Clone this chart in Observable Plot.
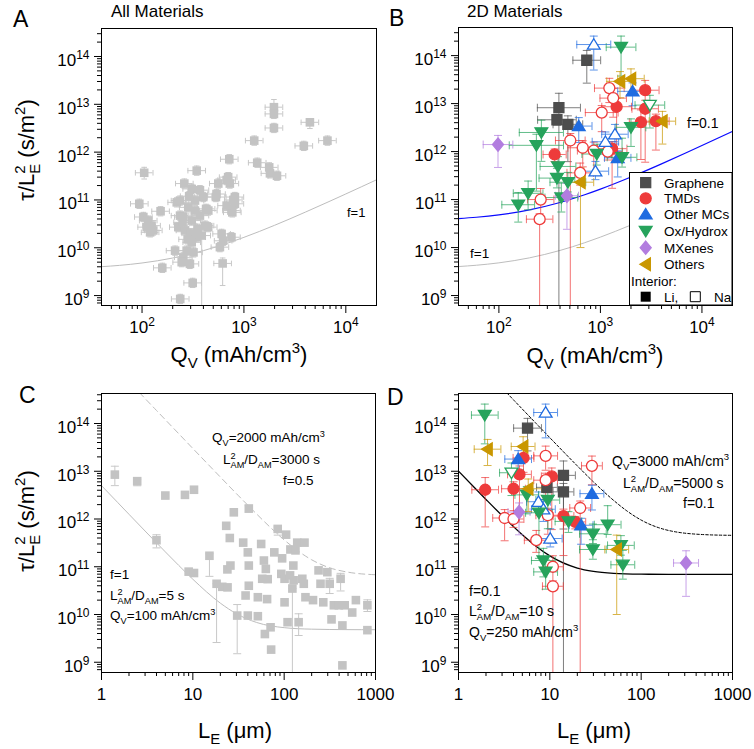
<!DOCTYPE html>
<html><head><meta charset="utf-8">
<script src="https://cdn.jsdelivr.net/npm/d3@7"></script>
<script src="https://cdn.jsdelivr.net/npm/@observablehq/plot@0.6"></script>
<style>
body{margin:0;background:#fff;}
#wrap{position:relative;width:754px;height:749px;overflow:hidden;background:#fff;}
</style></head><body><div id="wrap"></div>
<script>
// ---------------- DATA ----------------
// Panel A: all materials, tau/LE^2 vs Q_V
const aQ = [105,94,103,115,124,129,111,120,152,158, 237,314,344,260,211,219,307,370,399,331, 284,236,227,264,307,370,415,385,447,344, 307,274,254,295,245,604,625,581,754,618, 718,560,531,700,769,815,676,727,786,815, 754,676,1262,1350,1770,1800,2110,1970,1970,1970, 4440,3870,6600,538,330,290,250,350,300,280, 320,236,254,425,446];
const aTau = [3.7e11,8.3e10,4.4e10,3.7e10,2.9e10,2.3e10,2.7e10,2.1e10,5.8e10,3.8e9, 8.5e8,1.84e9,4.1e11,2.2e11,8.7e9,8.9e10,1.7e11,1.6e11,1.15e11,9.7e10, 7.0e10,4.7e10,2.7e10,2.3e10,3.7e10,4.7e10,2.9e10,1.8e10,6.0e10,1.66e10, 1.3e10,8.7e9,6.3e9,4.6e9,5.0e9,1.95e10,1.4e10,1.03e10,1.66e10,4.7e9, 7.1e11,2.2e11,1.15e11,3.0e11,5.5e10,1.15e11,2.6e11,2.2e11,1.0e11,8.3e10, 6.0e10,7.6e10,1.74e12,6.0e11,4.8e11,3.6e11,3.2e11,8.7e12,6.3e12,3.2e12, 4.2e12,1.35e12,1.74e12,1.33e11,6.0e10,1.2e11,3.4e10,2.5e10,2.0e10,1.5e10, 8.0e9,9.7e10,4.4e10,6.5e10,2.7e10];
const aQErr = 1.22;       // typical relative error on Q_V
const aTauErr = 1.25;     // typical relative error on tau/LE^2
const aErrIdx = [0,27,39,57,60];
const aErrDn = [1.35,1000,2.9,1.3,1.35];
const aErrUp = [1.3,1.3,1.3,1.45,1.2];

// Panel C: all materials, tau/LE^2 vs L_E
const cL = [1.40,2.46,5.0,8.2,10.3,4.0,9.0,10.3,15.2,18.2, 21,24,30.6,28.1,23.2,25.4,23.9,25.8,35.6,41, 40,41,41,37.8,40,51.5,51.5,56,60,63, 66,57.5,61.5,71,72,65,78,85,105,95, 93,101,101,109,117,133,139,126,116,127, 144,167,158,164,171,207,238,250,268,297, 315,330,350,397,415,434,434,460,556,610, 815,815,123];
const cTau = [8.5e12,6.2e12,3.1e12,3.2e12,4.1e12,3.6e11,7.9e10,7.4e10,1.7e11,4.4e10, 3.8e10,3.7e10,9.5e9,1.38e12,7.2e11,4.0e11,8.8e10,1.06e11,3.2e11,1.66e12, 2.0e11,1.06e11,4.0e10,2.5e10,9.5e9,2.3e10,9.2e9,3.0e11,1.35e11,9.0e10, 5.5e10,5.6e10,3.9e9,5.4e9,1.84e9,2.1e10,2.0e11,6.2e11,4.7e11,1.5e11, 7.1e10,5.6e10,1.8e10,6.9e9,2.3e11,2.2e11,3.2e11,1.06e11,6.6e10,5.2e10, 6.9e9,3.2e11,5.6e10,4.4e10,2.3e10,2.0e10,8.4e10,4.4e10,1.8e10,7.7e10, 4.4e10,7.9e9,1.56e10,1.56e10,5.6e10,5.9e9,8.6e8,1.56e10,1.1e10,2.0e10, 1.56e10,4.7e9,3.5e10];
const cErrIdx = [0,1,4,5,8,9,12,19,37,50,60,64,70,72];
const cErrDn = [1.7,1.25,1.2,1.45,2.7,17,6.3,1.2,1.35,1.9,1.6,1.8,1.35,1000];
const cErrUp = [1.5,1.1,1.1,1.3,1.1,1.0,1.7,1.15,1.1,1.5,1.3,1.3,1.3,1.0];

// Panels B & D: 2D materials
const categories = ["Graphene","TMDs","Other MCs","Ox/Hydrox","MXenes","Others"];
const bdCat = [0,0,0,0, 1,1,1,1,1,1,1, 1,1,1,1,1,1,1,1,1,1, 2,2,2,2,2,2,2, 3,3,3,3,3,3,3,3,3,3,3,3,3, 4,4, 5,5,5,5];
const bdNa  = [0,0,0,0, 0,0,0,0,0,0,0, 1,1,1,1,1,1,1,1,1,1, 0,0,0,1,1,1,1, 0,0,1,0,0,0,0,0,0,0,0,0,0, 0,0, 0,0,0,0];
const bdQ = [734,390,373,478, 2760,1444,2760,2505,3520,1303,354, 1224,1336,1030,505,670,860,1180,632,258,252, 2074,612,1480,860,1390,1120,893, 1597,2000,3070,262,234,382,373,478,920,1633,194,155,412, 98,468, 1560,2000,4080,636];
const bdL = [5.7,14.1,9.3,14.1, 5.15,4.65,10.5,1.96,4.0,14.1,19, 9.0,28.9,9.0,21.5,9.5,3.2,4.0,7.1,10.8,10.8, 4.5,28.9,22,9.0,7.5,8.5,10.1, 1.94,5.6,3.8,9.5,7.6,29.6,60,29.6,16,43,8.5,9.0,63, 4.6,310, 2.08,5.1,5.8,54];
const bdTau = [8.0e13,8.2e12,4.6e12,3.7e12, 1.9e13,8.6e12,7.8e12,4.1e12,4.3e12,1.15e12,8.7e11, 2.1e13,1.3e13,6.5e12,1.7e12,1.2e12,1.05e12,1.0e12,3.6e11,1.0e11,3.9e10, 1.8e13,3.4e12,7.4e11,1.7e14,2.3e12,1.6e12,3.9e11, 1.5e14,3.2e12,9.3e12,2.5e12,1.35e12,4.9e11,2.8e11,2.3e11,8.9e11,7.6e11,1.35e11,7.8e10,1.1e11, 1.4e12,1.2e11, 2.9e13,3.3e13,4.3e12,2.3e11];
const bdQErr = [1.37,1.63,1.55,1.4, 1.37,1.4,1.35,1.3,1.35,1.4,1.3, 1.4,1.35,1.45,1.4,1.4,1.45,1.4,1.35,1.35,1.35, 1.4,1.35,1.35,1.47,1.35,1.35,1.35, 1.4,1.4,1.4,1.65,1.85,1.5,1.5,1.5,1.4,1.4,1.4,1.45,1.45, 1.4,1.3, 1.35,1.35,1.35,1.35];
const bdLErr = [1.42,1.35,1.3,1.3, 1.3,1.35,1.3,1.4,1.35,1.3,1.3, 1.35,1.3,1.35,1.3,1.35,1.35,1.3,1.35,1.3,1.3, 1.4,1.35,1.35,1.35,1.35,1.35,1.35, 1.4,1.35,1.35,1.35,1.4,1.4,1.4,1.4,1.4,1.4,1.35,1.35,1.35, 1.32,1.37, 1.4,1.35,1.4,1.35];
const bdTauDn = [3,1e6,1.3,6, 2,10,13,6,4,6.7,1.4, 2,2.5,2.5,1e6,2.5,3,1.5,1.8,3,1e6, 2,2.2,2.5,3.4,1.6,1.8,1.5, 4,2.5,3,4,9,1.6,1.6,1.6,1.7,1.6,2.2,2.3,2, 3,5, 2.2,2,3,23];
const bdTauUp = [1.6,2.0,1.3,1.5, 1.6,1.5,1.5,1.8,1.4,1.4,1.3, 1.6,1.6,1.4,1.4,1.4,1.5,1.5,1.6,1.7,1.3, 1.5,1.5,1.4,1.5,1.6,1.6,1.6, 1.7,1.5,1.6,1.8,1.7,1.6,1.6,1.6,1.6,2.5,1.8,1.8,2, 1.55,1.8, 1.6,1.6,1.6,2];

// model curves
const curveQ   = [40,60,100,200,400,700,1000,2000,4000,7000,10000,20000];
const curveF1  = [4.02e9,4.28e9,4.8e9,6.1e9,8.7e9,1.26e10,1.65e10,2.95e10,5.55e10,9.45e10,1.335e11,2.635e11];
const curveF01 = [4.02e10,4.28e10,4.8e10,6.1e10,8.7e10,1.26e11,1.65e11,2.95e11,5.55e11,9.45e11,1.335e12,2.635e12];
const cSolidL = [1,1.5,2,3,5,7,10,20,30,50,100,200,500,1000];
const cSolid  = [5.0e12,2.23e12,1.255e12,5.6e11,2.05e11,1.07e11,5.48e10,1.73e10,1.04e10,6.8e9,5.3e9,4.93e9,4.82e9,4.8e9];
const cDashL  = [2.6,3,4,5,7,10,20,30,50,70,100,200,300,500,1000];
const cDash   = [4.44e14,3.334e14,1.876e14,1.2e14,6.13e13,3.0e13,7.57e12,3.4e12,1.27e12,6.77e11,3.65e11,1.4e11,9.8e10,7.7e10,6.8e10];
const dSolidL = [1,1.5,2,3,5,7,10,20,30,50,100,200,500,1000];
const dSolid  = [1.007e13,4.51e12,2.57e12,1.18e12,4.69e11,2.73e11,1.69e11,9.4e10,8.01e10,7.3e10,7.0e10,6.93e10,6.9e10,6.9e10];
const dDashL  = [3.4,4,5,7,10,20,30,50,70,100,200,500,1000];
const dDash   = [4.33e14,3.13e14,2.005e14,1.025e14,5.045e13,1.295e13,6.0e12,2.45e12,1.47e12,9.5e11,5.75e11,4.7e11,4.55e11];

// ticks
const yTicks = [1e9,1e10,1e11,1e12,1e13,1e14];
const qTicks = [100,1000,10000];
const lTicks = [1,10,100,1000];
const lTickLabels = ["1","10","100","1000"];

// ---------------- STYLE ----------------
const FONT = "'Liberation Sans', Arial, Helvetica, sans-serif";
const catColors = ["#4d4d4d","#ee3b3b","#1f6be0","#26a35c","#b27ddf","#c99700"];
const GRAY = "#c3c3c3";

function sym(fn){ return {draw(ctx,size){ const r=Math.sqrt(size/Math.PI); fn(ctx,r); }}; }
const SYM = {
  square: sym((c,r)=>{c.moveTo(-r,-r);c.lineTo(r,-r);c.lineTo(r,r);c.lineTo(-r,r);c.closePath();}),
  circle: sym((c,r)=>{c.moveTo(r,0);c.arc(0,0,r,0,2*Math.PI);c.closePath();}),
  up: sym((c,r)=>{c.moveTo(0,-r);c.lineTo(1.1*r,0.8*r);c.lineTo(-1.1*r,0.8*r);c.closePath();}),
  down: sym((c,r)=>{c.moveTo(0,r);c.lineTo(1.1*r,-0.8*r);c.lineTo(-1.1*r,-0.8*r);c.closePath();}),
  diamond: sym((c,r)=>{c.moveTo(0,-1.2*r);c.lineTo(r,0);c.lineTo(0,1.2*r);c.lineTo(-r,0);c.closePath();}),
  left: sym((c,r)=>{c.moveTo(-r,0);c.lineTo(0.8*r,-1.1*r);c.lineTo(0.8*r,1.1*r);c.closePath();}),
  hcap: sym((c,r)=>{c.moveTo(-r,0);c.lineTo(r,0);}),
  vcap: sym((c,r)=>{c.moveTo(0,-r);c.lineTo(0,r);})
};
const catSym = [SYM.square, SYM.circle, SYM.up, SYM.down, SYM.diamond, SYM.left];
const catR = [5, 5.5, 5.8, 5.8, 5.5, 5.8];

function minorTicks(lo, hi){
  const out=[];
  for(let e=Math.floor(Math.log10(lo)); e<=Math.ceil(Math.log10(hi)); e++)
    for(let m=2;m<=9;m++){ const v=m*Math.pow(10,e); if(v>lo*1.0001 && v<hi*0.9999) out.push(v); }
  return out;
}

function axisMarks(xMajor, xFmt, xDomain, yDomain){
  return [
    Plot.axisY({ticks: minorTicks(yDomain[0], yDomain[1]), tickSize: 4, tickFormat: () => "", label: null}),
    Plot.axisY({ticks: yTicks, tickSize: 7, tickPadding: 5, tickFormat: d => "10^" + Math.round(Math.log10(d)), label: null}),
    Plot.axisX({ticks: minorTicks(xDomain[0], xDomain[1]), tickSize: 4, tickFormat: () => "", label: null}),
    Plot.axisX({ticks: xMajor, tickSize: 8, tickPadding: 7, tickFormat: xFmt, label: null})
  ];
}

function errMarks(data, o){
  const m = [];
  const base = {stroke: o.stroke, strokeOpacity: o.op ?? 1, strokeWidth: 1, clip: true};
  if (o.x1) {
    m.push(Plot.ruleY(data, {...base, y: o.y, x1: o.x1, x2: o.x2}));
    m.push(Plot.dot(data, {...base, x: o.x1, y: o.y, symbol: SYM.vcap, r: o.cap, fill: "none"}));
    m.push(Plot.dot(data, {...base, x: o.x2, y: o.y, symbol: SYM.vcap, r: o.cap, fill: "none"}));
  }
  if (o.y1) {
    m.push(Plot.ruleX(data, {...base, x: o.x, y1: o.y1, y2: o.y2}));
    m.push(Plot.dot(data, {...base, x: o.x, y: o.y1, symbol: SYM.hcap, r: o.cap, fill: "none"}));
    m.push(Plot.dot(data, {...base, x: o.x, y: o.y2, symbol: SYM.hcap, r: o.cap, fill: "none"}));
  }
  return m;
}

function makePlot(cfg){
  return Plot.plot({
    width: 377, height: 375,
    marginLeft: cfg.ml, marginRight: cfg.mr, marginTop: cfg.mt, marginBottom: cfg.mb,
    x: {type: "log", domain: cfg.xDomain},
    y: {type: "log", domain: cfg.yDomain},
    style: {background: "transparent", overflow: "visible", fontFamily: FONT, fontSize: "17px", color: "#000"},
    marks: [
      ...cfg.marks,
      ...axisMarks(cfg.xMajor, cfg.xFmt, cfg.xDomain, cfg.yDomain),
      Plot.frame({stroke: "#000", strokeWidth: 1})
    ]
  });
}

const wrap = document.getElementById("wrap");
function place(svg, left, top){
  svg.style.position = "absolute"; svg.style.left = left + "px"; svg.style.top = top + "px";
  wrap.appendChild(svg);
  supLabels(svg);
  return d3.select(svg);
}
function supLabels(svg){
  d3.select(svg).selectAll("text").each(function(){
    const t = this.textContent;
    const m = /^10\^(\d+)$/.exec(t), mx = /^10~(\d+)$/.exec(t);
    if (!m && !mx) return;
    const sel = d3.select(this); sel.text(null);
    sel.append("tspan").attr("dy", m ? 4 : 0).text("10");
    sel.append("tspan").attr("dy", -7).attr("font-size", 12).text((m||mx)[1]);
  });
}
function rich(sel, x, y, parts, size, opts={}){
  const t = sel.append("text").attr("x", x).attr("y", y).attr("font-size", size)
    .attr("font-family", FONT).attr("fill", opts.fill || "#000").attr("text-anchor", opts.anchor || "start");
  if (opts.rotate) t.attr("transform", `rotate(-90 ${x} ${y})`);
  let shift = 0, lastSup = null;
  for (const [txt, kind] of parts){
    const target = kind === "sup" ? -0.4*size : (kind === "sub" || kind === "subU") ? 0.28*size : 0;
    const ts = t.append("tspan").text(txt).attr("dy", target - shift);
    if (kind !== "n") ts.attr("font-size", 0.68*size);
    if (kind === "subU" && lastSup) ts.attr("dx", -lastSup.node().getComputedTextLength());
    if (kind === "sup") lastSup = ts;
    shift = target;
  }
  return t;
}
function label(sel, x, y, txt, size){
  return sel.append("text").attr("x", x).attr("y", y).attr("font-size", size).attr("font-family", FONT)
    .attr("text-anchor", "start").attr("fill", "#000").text(txt);
}

// ---------------- DATA TABLES ----------------
const aData = aQ.map((q,i) => {
  const k = aErrIdx.indexOf(i);
  return {q, t: aTau[i], dn: k >= 0 ? aErrDn[k] : aTauErr, up: k >= 0 ? aErrUp[k] : aTauErr};
});
const cData = cL.map((l,i) => ({l, t: cTau[i]}));
const cErr = cErrIdx.map((i,k) => ({l: cL[i], t: cTau[i], dn: cErrDn[k], up: cErrUp[k]}));
const bd = bdQ.map((q,i) => ({cat: bdCat[i], na: bdNa[i], q, l: bdL[i], t: bdTau[i], qe: bdQErr[i], le: bdLErr[i], dn: bdTauDn[i], up: bdTauUp[i]}));
const line = (xs, ys) => xs.map((x,i) => ({x, y: ys[i]}));

const qDomain = [40, 20000], lDomain = [1, 1000];
const yDomAB = [6.2e8, 3.85e14], yDomCD = [6.1e8, 4.25e14];
const qFmt = d => "10~" + Math.round(Math.log10(d));
const lFmt = d => lTickLabels[lTicks.indexOf(d)];

// ---------------- PANEL A ----------------
const svgA = makePlot({
  ml: 101, mr: 1, mt: 28, mb: 70, xDomain: qDomain, yDomain: yDomAB, xMajor: qTicks, xFmt: qFmt,
  marks: [
    Plot.line(line(curveQ, curveF1), {x: "x", y: "y", stroke: "#bdbdbd", strokeWidth: 1, curve: "monotone-x", clip: true}),
    ...errMarks(aData, {x: "q", y: "t", x1: d => d.q/aQErr, x2: d => d.q*aQErr, y1: d => d.t/d.dn, y2: d => d.t*d.up, stroke: "#c8c8c8", cap: 2.8}),
    Plot.dot(aData, {x: "q", y: "t", symbol: SYM.square, r: 4.3, fill: GRAY, stroke: "none"})
  ]
});
const A = place(svgA, 0, 0);
label(A, 13, 27, "A", 23);
label(A, 111, 17, "All Materials", 17);
label(A, 347, 217, "f=1", 13);
rich(A, 34, 150, [["τ/L","n"],["2","sup"],["E","subU"],[" (s/m","n"],["2","sup"],[")","n"]], 22, {anchor: "middle", rotate: true});
rich(A, 239, 362, [["Q","n"],["V","sub"],[" (mAh/cm","n"],["3","sup"],[")","n"]], 22, {anchor: "middle"});

// ---------------- PANEL B / D marks ----------------
function catMarks(xKey, xeKey){
  const marks = [];
  for (let c = 0; c < categories.length; c++){
    const sub = bd.filter(d => d.cat === c);
    marks.push(...errMarks(sub, {x: xKey, y: "t", x1: d => d[xKey]/d[xeKey], x2: d => d[xKey]*d[xeKey], y1: d => d.t/d.dn, y2: d => d.t*d.up, stroke: catColors[c], op: 0.72, cap: 4}));
  }
  for (let c = 0; c < categories.length; c++){
    for (const na of [0,1]){
      const sub = bd.filter(d => d.cat === c && d.na === na);
      if (!sub.length) continue;
      marks.push(Plot.dot(sub, {x: xKey, y: "t", symbol: catSym[c], r: catR[c], fill: na ? "#fff" : catColors[c], stroke: catColors[c], strokeWidth: 1.3}));
    }
  }
  return marks;
}

const svgB = makePlot({
  ml: 81, mr: 22, mt: 27, mb: 70, xDomain: qDomain, yDomain: yDomAB, xMajor: qTicks, xFmt: qFmt,
  marks: [
    Plot.line(line(curveQ, curveF1), {x: "x", y: "y", stroke: "#bdbdbd", strokeWidth: 1, curve: "monotone-x", clip: true}),
    Plot.line(line(curveQ, curveF01), {x: "x", y: "y", stroke: "#0a0aff", strokeWidth: 1.2, curve: "monotone-x", clip: true}),
    ...catMarks("q", "qe")
  ]
});
const B = place(svgB, 377, 0);
label(B, 12, 26, "B", 23);
label(B, 90, 17, "2D Materials", 17);
label(B, 310, 128, "f=0.1", 14);
label(B, 93, 258, "f=1", 13.5);
// legend
{
  const g = B.append("g").attr("font-family", FONT).attr("font-size", 13.5).attr("text-anchor", "start");
  g.append("rect").attr("x", 252.5).attr("y", 172.5).attr("width", 102.5).attr("height", 132.5).attr("fill", "#fff").attr("stroke", "#000").attr("stroke-width", 1);
  const ys = [182.7, 198.3, 214.3, 231, 247.7, 264.3];
  categories.forEach((name, c) => {
    g.append("path").attr("transform", `translate(268.7,${ys[c]})`).attr("d", d3.symbol().type(catSym[c]).size(Math.PI*catR[c]*catR[c])())
      .attr("fill", catColors[c]).attr("stroke", catColors[c]).attr("stroke-width", 1.3);
    g.append("text").attr("x", 287).attr("y", ys[c] + 4.8).text(name);
  });
  g.append("text").attr("x", 254).attr("y", 285.5).text("Interior:");
  g.append("path").attr("transform", "translate(268.7,296.7)").attr("d", d3.symbol().type(SYM.square).size(Math.PI*25)()).attr("fill", "#000");
  g.append("text").attr("x", 287).attr("y", 301.5).text("Li,");
  g.append("path").attr("transform", "translate(318.3,296.7)").attr("d", d3.symbol().type(SYM.square).size(Math.PI*25)()).attr("fill", "#fff").attr("stroke", "#000").attr("stroke-width", 1);
  g.append("text").attr("x", 337).attr("y", 301.5).text("Na");
}
rich(B, 218, 363, [["Q","n"],["V","sub"],[" (mAh/cm","n"],["3","sup"],[")","n"]], 22, {anchor: "middle"});

// ---------------- PANEL C ----------------
const svgC = makePlot({
  ml: 101, mr: 2, mt: 18, mb: 78, xDomain: lDomain, yDomain: yDomCD, xMajor: lTicks, xFmt: lFmt,
  marks: [
    Plot.line(line(cSolidL, cSolid), {x: "x", y: "y", stroke: "#bdbdbd", strokeWidth: 1, curve: "monotone-x", clip: true}),
    Plot.line(line(cDashL, cDash), {x: "x", y: "y", stroke: "#bdbdbd", strokeWidth: 1, strokeDasharray: "6,4", curve: "monotone-x", clip: true}),
    ...errMarks(cErr, {x: "l", y: "t", y1: d => d.t/d.dn, y2: d => d.t*d.up, stroke: "#c8c8c8", cap: 4}),
    Plot.dot(cData, {x: "l", y: "t", symbol: SYM.square, r: 4.3, fill: GRAY, stroke: "none"})
  ]
});
const C = place(svgC, 0, 375);
label(C, 19, 28, "C", 23);
rich(C, 212, 67, [["Q","n"],["V","sub"],["=2000 mAh/cm","n"],["3","sup"]], 13.5);
rich(C, 223, 89, [["L","n"],["2","sup"],["AM","subU"],["/D","n"],["AM","sub"],["=3000 s","n"]], 13.5);
label(C, 283, 110, "f=0.5", 13.5);
label(C, 110, 204, "f=1", 13.5);
rich(C, 110, 225, [["L","n"],["2","sup"],["AM","subU"],["/D","n"],["AM","sub"],["=5 s","n"]], 13.5);
rich(C, 110, 245, [["Q","n"],["V","sub"],["=100 mAh/cm","n"],["3","sup"]], 13.5);
rich(C, 34, 146, [["τ/L","n"],["2","sup"],["E","subU"],[" (s/m","n"],["2","sup"],[")","n"]], 22, {anchor: "middle", rotate: true});
rich(C, 235, 363, [["L","n"],["E","sub"],[" (μm)","n"]], 22, {anchor: "middle"});

// ---------------- PANEL D ----------------
const svgD = makePlot({
  ml: 81, mr: 22, mt: 18, mb: 78, xDomain: lDomain, yDomain: yDomCD, xMajor: lTicks, xFmt: lFmt,
  marks: [
    Plot.line(line(dSolidL, dSolid), {x: "x", y: "y", stroke: "#000", strokeWidth: 1.3, curve: "monotone-x", clip: true}),
    Plot.line(line(dDashL, dDash), {x: "x", y: "y", stroke: "#000", strokeWidth: 1, strokeDasharray: "2.5,2", curve: "monotone-x", clip: true}),
    ...catMarks("l", "le")
  ]
});
const D = place(svgD, 377, 375);
label(D, 10, 30, "D", 23);
rich(D, 235, 91, [["Q","n"],["V","sub"],["=3000 mAh/cm","n"],["3","sup"]], 14);
rich(D, 246, 113, [["L","n"],["2","sup"],["AM","subU"],["/D","n"],["AM","sub"],["=5000 s","n"]], 14);
label(D, 306, 133, "f=0.1", 14);
label(D, 92, 221, "f=0.1", 14);
rich(D, 92, 241, [["L","n"],["2","sup"],["AM","subU"],["/D","n"],["AM","sub"],["=10 s","n"]], 14);
rich(D, 92, 262, [["Q","n"],["V","sub"],["=250 mAh/cm","n"],["3","sup"]], 14);
rich(D, 217, 363, [["L","n"],["E","sub"],[" (μm)","n"]], 22, {anchor: "middle"});
</script></body></html>
